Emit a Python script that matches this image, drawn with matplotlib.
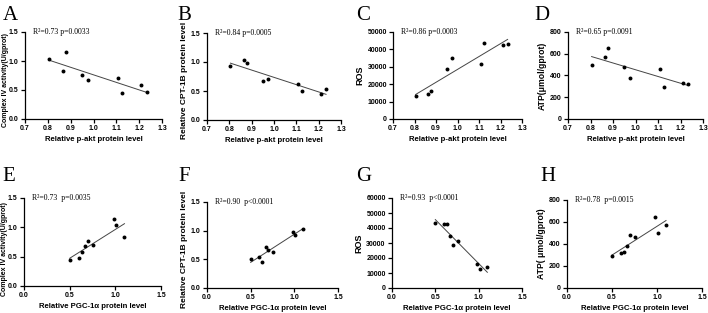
import numpy as np
import matplotlib
matplotlib.use("Agg")
import matplotlib.pyplot as plt

# ---- data ----
x_akt = [0.805, 0.865, 0.878, 0.95, 0.975, 1.108, 1.125, 1.21, 1.233]
x_pgc = [0.50, 0.60, 0.63, 0.67, 0.70, 0.76, 0.98, 1.01, 1.10]

y_A = [1.04, 0.83, 1.15, 0.76, 0.68, 0.70, 0.44, 0.59, 0.47]
y_B = [0.93, 1.03, 0.98, 0.67, 0.71, 0.62, 0.50, 0.45, 0.54]
y_C = [13000, 14500, 16000, 28500, 35000, 31500, 43500, 42500, 43000]
y_D = [500, 570, 650, 480, 380, 460, 290, 335, 320]

y_E = [0.44, 0.47, 0.58, 0.69, 0.76, 0.70, 1.15, 1.04, 0.83]
y_F = [0.50, 0.54, 0.45, 0.71, 0.67, 0.62, 0.98, 0.93, 1.03]
y_G = [43500, 43000, 42500, 35000, 28500, 31500, 16000, 13000, 14000]
y_H = [290, 315, 330, 380, 480, 460, 650, 500, 570]

letters = ["A", "B", "C", "D", "E", "F", "G", "H"]
stats = ["R\u00b2=0.73 p=0.0033", "R\u00b2=0.84 p=0.0005", "R\u00b2=0.86 p=0.0003",
         "R\u00b2=0.65 p=0.0091", "R\u00b2=0.73  p=0.0035", "R\u00b2=0.90  p<0.0001",
         "R\u00b2=0.93  p<0.0001", "R\u00b2=0.78  p=0.0015"]
ylabels = ["Complex IV activity(U/gprot)", "Relative CPT-1B protein level", "ROS",
           "ATP(\u03bcmol/gprot)", "Complex IV activity(U/gprot)",
           "Relative CPT-1B protein level", "ROS", "ATP( \u03bcmol/gprot)"]
xlabels = ["Relative p-akt protein level"] * 4 + ["Relative PGC-1\u03b1 protein level"] * 4
xticks_top = [0.7, 0.8, 0.9, 1.0, 1.1, 1.2, 1.3]
xticks_bot = [0.0, 0.5, 1.0, 1.5]
yticks = [[0, 0.5, 1.0, 1.5], [0, 0.5, 1.0, 1.5], [0, 10000, 20000, 30000, 40000, 50000],
          [0, 200, 400, 600, 800], [0, 0.5, 1.0, 1.5], [0, 0.5, 1.0, 1.5],
          [0, 10000, 20000, 30000, 40000, 50000, 60000], [0, 200, 400, 600, 800]]

xs = [x_akt] * 4 + [x_pgc] * 4
ys = [y_A, y_B, y_C, y_D, y_E, y_F, y_G, y_H]

W, H = 708, 313
fig = plt.figure(figsize=(W / 100, H / 100), dpi=100)

# axes boxes in pixels: left, right, top, bottom
boxes = [(25, 162, 32, 119), (207, 341, 33, 120), (393, 522, 32, 119), (568, 703, 32, 119),
         (24, 161, 198, 286), (207, 338, 202, 288), (392, 522, 198, 288), (567, 702, 200, 288)]
letter_pos = [(3, 20), (177, 20), (356, 20), (534, 20), (2, 181), (178, 181), (356, 181), (540, 181)]
ylab_size = [5.0, 6.0, 6.5, 6.2, 5.0, 6.0, 6.5, 6.2]
ylab_pos = [0.45, 0.45, 0.5, 0.5, 0.42, 0.45, 0.5, 0.5]
ylab_pad = [0.3, 2, 2, 2, 0.3, 2, 2, 2]

SANS = "Liberation Sans"

for i in range(8):
    l, r, t, b = boxes[i]
    ax = fig.add_axes([l / W, 1 - b / H, (r - l) / W, (b - t) / H])
    x = np.array(xs[i]); y = np.array(ys[i])
    ax.scatter(x, y, s=8, color="black", zorder=3, linewidths=0)
    k, c = np.polyfit(x, y, 1)
    xx = np.array([x.min(), x.max()])
    ax.plot(xx, k * xx + c, color="#444444", lw=0.7)
    xt = xticks_top if i < 4 else xticks_bot
    ax.set_xticks(xt)
    ax.set_xlim(xt[0], xt[-1])
    ax.set_yticks(yticks[i])
    ax.set_ylim(yticks[i][0], yticks[i][-1])
    for s in ["top", "right"]:
        ax.spines[s].set_visible(False)
    for s in ["left", "bottom"]:
        ax.spines[s].set_linewidth(0.9)
    ax.tick_params(width=0.9, length=3, labelsize=5, pad=1.5)
    if i in (0, 1, 4, 5):
        ax.set_yticklabels(["0.0", "0.5", "1.0", "1.5"])
    if i >= 4:
        ax.set_xticklabels(["0.0", "0.5", "1.0", "1.5"])
    for lab in ax.get_xticklabels() + ax.get_yticklabels():
        lab.set_fontweight("bold")
        lab.set_family(SANS)
    ax.set_xlabel(xlabels[i], fontsize=5.6, fontweight="bold", family=SANS, labelpad=3)
    ax.set_ylabel(ylabels[i], fontsize=ylab_size[i], fontweight="bold", family=SANS,
                  labelpad=ylab_pad[i])
    ax.yaxis.label.set_y(ylab_pos[i])
    ax.text(0.06, 1.0, stats[i], transform=ax.transAxes, fontsize=5.6, family="Liberation Serif",
            va="center", ha="left")
    lx, ly = letter_pos[i]
    fig.text(lx / W, 1 - ly / H, letters[i], fontsize=15, family="Liberation Serif", va="baseline")

fig.savefig("out.png", dpi=100)
